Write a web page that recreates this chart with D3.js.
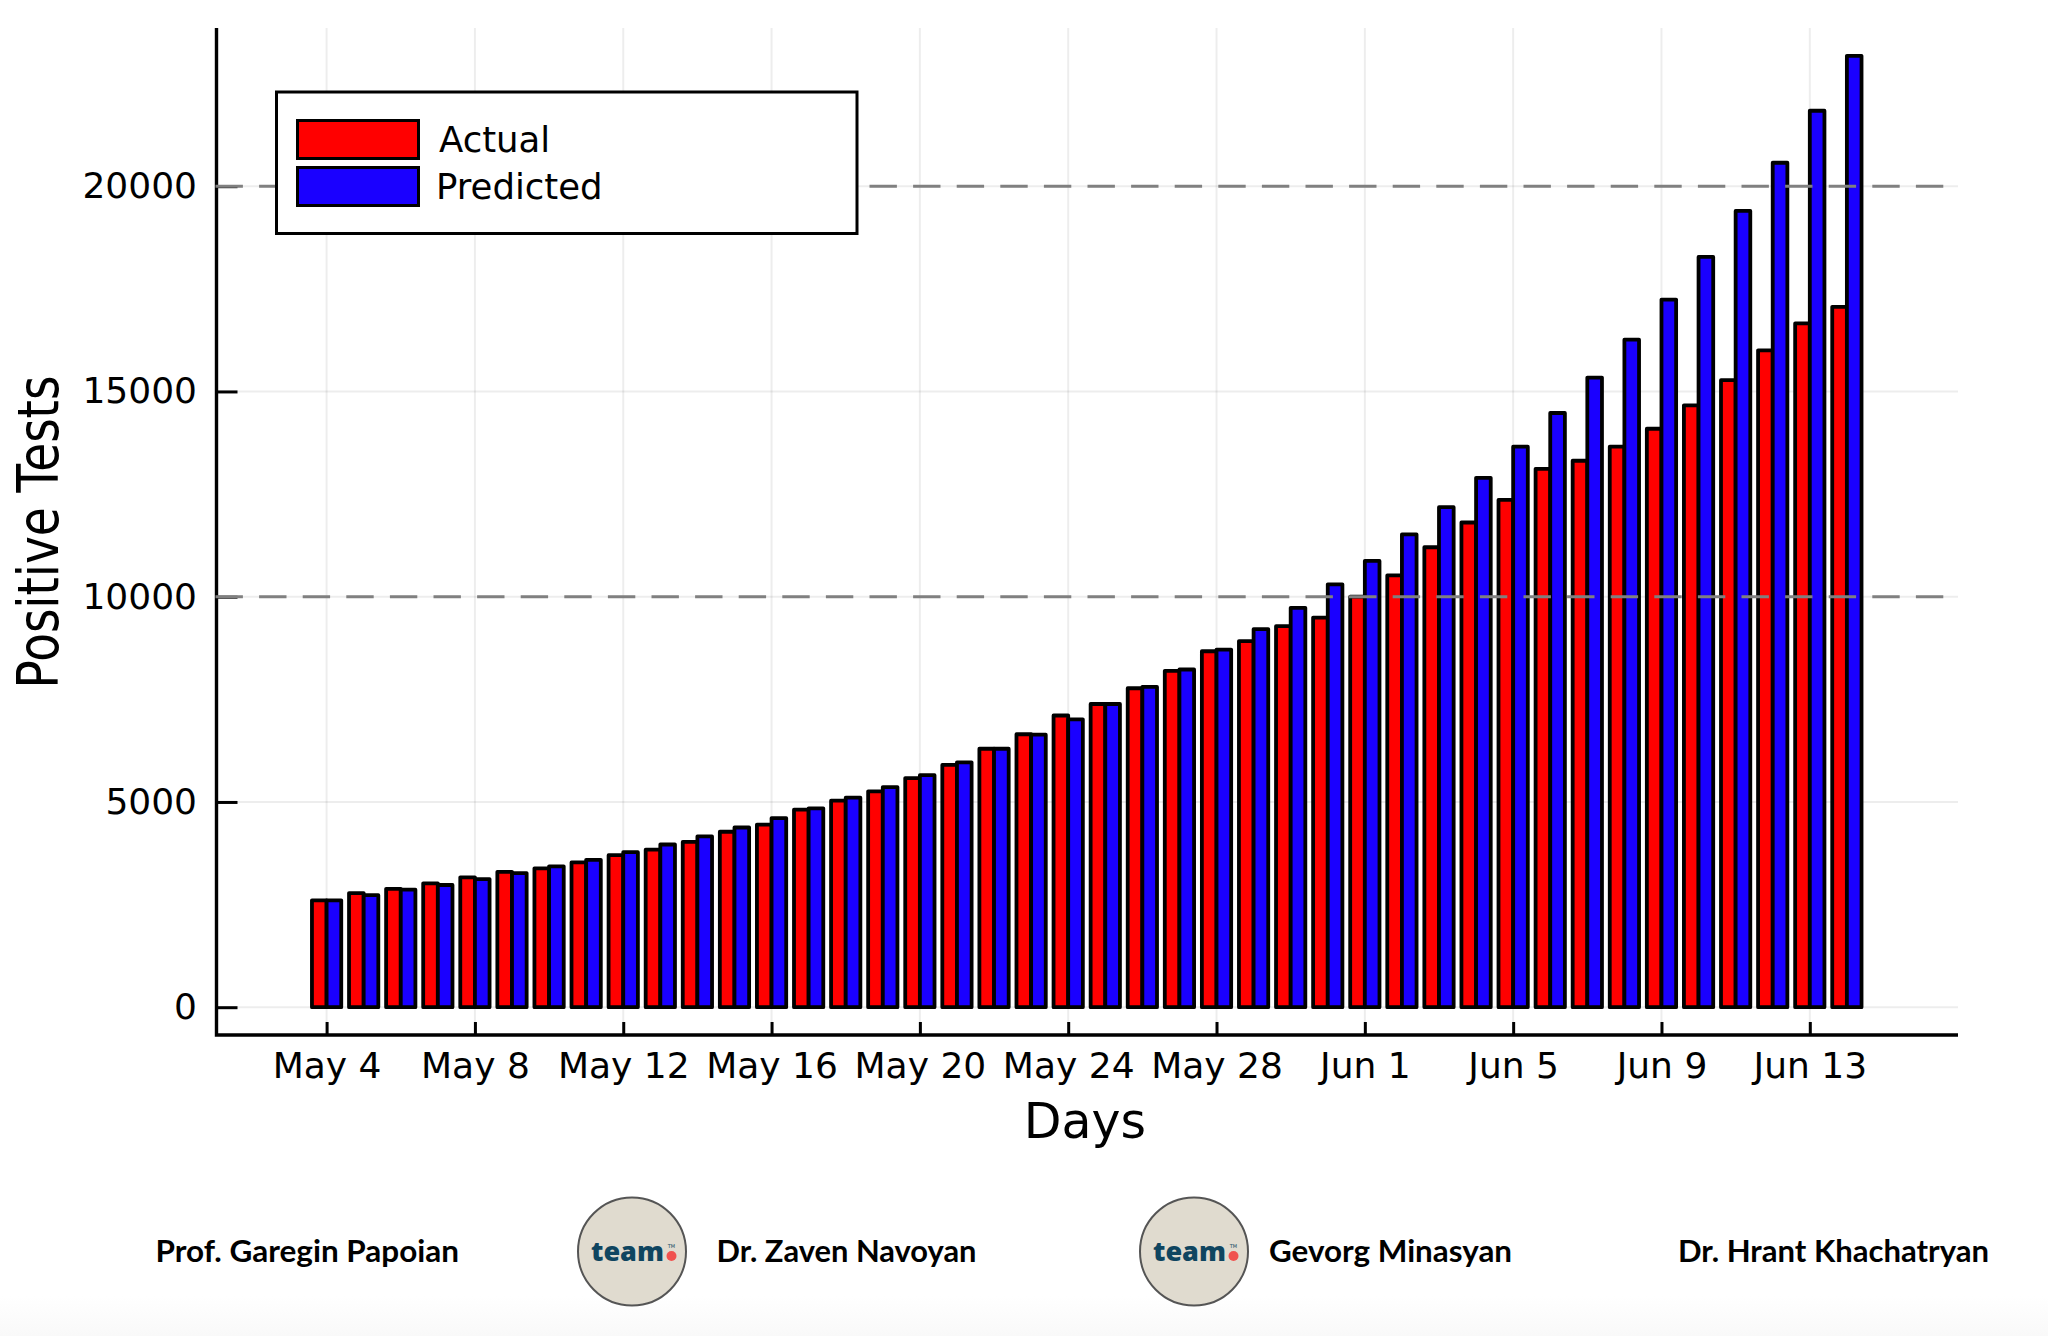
<!DOCTYPE html>
<html lang="en">
    <head>
        <meta charset="UTF-8" />
        <title>Positive Tests</title>
        <script src="https://d3js.org/d3.v7.min.js"></script>
        <style>
            body {
                margin: 0;
                background: #fff;
            }

            svg {
                display: block;
            }

            text {
                font-family: 'DejaVu Sans', sans-serif;
                fill: #000;
            }

            .tick text {
                font-size: 36px;
            }

            .credit {
                font-family: Lato, 'Noto Sans', sans-serif;
                font-weight: 700;
                font-size: 31px;
            }
        </style>
    </head>
    <body>
        <svg width="2048" height="1336"></svg>

        <script>
            const actual = [
                2604, 2780, 2884, 3018, 3164, 3299, 3382, 3527, 3703, 3838, 4025, 4274, 4450, 4813,
                5031, 5259, 5581, 5902, 6296, 6649, 7106, 7386, 7770, 8195, 8671, 8920, 9283, 9491,
                10000, 10519, 11205, 11807, 12357, 13115, 13312, 13655, 14091, 14662, 15275, 16002,
                16656, 17061,
            ];
            const predicted = [
                2604, 2728, 2863, 2977, 3122, 3268, 3433, 3589, 3776, 3963, 4160, 4378, 4606, 4844,
                5104, 5363, 5653, 5965, 6296, 6639, 7012, 7386, 7801, 8226, 8712, 9211, 9730, 10301,
                10872, 11516, 12181, 12897, 13655, 14475, 15337, 16262, 17238, 18276, 19398, 20571,
                21838, 23177,
            ];
            const days = d3.utcDay.range(new Date(Date.UTC(2020, 4, 4)), new Date(Date.UTC(2020, 5, 15)));
            const xTickDays = days.filter((d, i) => i % 4 === 0);
            const yTicks = [0, 5000, 10000, 15000, 20000];
            const dashedLevels = [10000, 20000];
            const seriesNames = ['Actual', 'Predicted'];
            const seriesColors = ['#ff0000', '#1a00ff'];
            const credits = [
                { name: 'Prof. Garegin Papoian', left: 155.5, right: 459 },
                { name: 'Dr. Zaven Navoyan', left: 716.5, right: 976.5 },
                { name: 'Gevorg Minasyan', left: 1269, right: 1512 },
                { name: 'Dr. Hrant Khachatryan', left: 1678, right: 1989 },
            ];
            const badgeCenters = [632, 1194];

            const svg = d3.select('svg');
            const plot = { left: 216.5, right: 1958, top: 28, bottom: 1035 };

            const x = d3.scaleUtc().domain([days[0], days[40]]).range([326.6, 1809.8]);
            const y = d3.scaleLinear().domain([0, 20000]).range([1007.2, 186.2]);
            const dayWidth = x(days[1]) - x(days[0]);
            const barWidth = dayWidth * 0.395;

            // faint fade at the very bottom of the slide
            const fade = svg
                .append('defs')
                .append('linearGradient')
                .attr('id', 'fade')
                .attr('x1', 0)
                .attr('x2', 0)
                .attr('y1', 0)
                .attr('y2', 1);
            fade.append('stop').attr('offset', 0).attr('stop-color', '#fff');
            fade.append('stop').attr('offset', 1).attr('stop-color', '#f9f9f9');
            svg.append('rect').attr('y', 1296).attr('width', 2048).attr('height', 40).attr('fill', 'url(#fade)');

            // grid
            const grid = svg.append('g').attr('stroke', '#000').attr('stroke-opacity', 0.07).attr('stroke-width', 2);
            grid.selectAll('.gx')
                .data(xTickDays)
                .enter()
                .append('line')
                .attr('x1', (d) => x(d))
                .attr('x2', (d) => x(d))
                .attr('y1', plot.top)
                .attr('y2', plot.bottom);
            grid.selectAll('.gy')
                .data(yTicks)
                .enter()
                .append('line')
                .attr('x1', plot.left)
                .attr('x2', plot.right)
                .attr('y1', (d) => y(d))
                .attr('y2', (d) => y(d));

            // bars
            [actual, predicted].forEach((values, s) => {
                svg.append('g')
                    .selectAll('rect')
                    .data(values)
                    .enter()
                    .append('rect')
                    .attr('x', (d, i) => x(days[i]) + (s === 0 ? -barWidth : 0))
                    .attr('y', (d) => y(d))
                    .attr('width', barWidth)
                    .attr('height', (d) => y(0) - y(d))
                    .attr('fill', seriesColors[s])
                    .attr('stroke', '#000')
                    .attr('stroke-width', 3.8)
                    .attr('stroke-linejoin', 'round');
            });

            // axes
            const xAxis = svg
                .append('g')
                .attr('transform', `translate(0,${plot.bottom})`)
                .call(
                    d3
                        .axisBottom(x)
                        .tickValues(xTickDays)
                        .tickFormat(d3.utcFormat('%b %-d'))
                        .tickSize(-13)
                        .tickPadding(17),
                );
            const yAxis = svg
                .append('g')
                .attr('transform', `translate(${plot.left},0)`)
                .call(d3.axisLeft(y).tickValues(yTicks).tickFormat(d3.format('d')).tickSize(-21).tickPadding(19.5));
            [xAxis, yAxis].forEach((axis) => {
                axis.select('.domain').remove();
                axis.selectAll('.tick line').attr('stroke', '#000').attr('stroke-width', 3);
            });

            svg.append('path')
                .attr('d', `M${plot.left},${plot.top}V${plot.bottom}H${plot.right}`)
                .attr('fill', 'none')
                .attr('stroke', '#000')
                .attr('stroke-width', 3.4);

            // dashed reference levels sit on top of the bars
            svg.append('g')
                .selectAll('line')
                .data(dashedLevels)
                .enter()
                .append('line')
                .attr('x1', plot.left - 1)
                .attr('x2', plot.right - 10)
                .attr('y1', (d) => y(d))
                .attr('y2', (d) => y(d))
                .attr('stroke', '#808080')
                .attr('stroke-width', 3)
                .attr('stroke-dasharray', '27.4 16.2');

            // legend
            const legend = svg.append('g');
            legend
                .append('rect')
                .attr('x', 276.5)
                .attr('y', 92)
                .attr('width', 580.5)
                .attr('height', 141.5)
                .attr('fill', '#fff')
                .attr('stroke', '#000')
                .attr('stroke-width', 3);
            seriesNames.forEach((name, i) => {
                legend
                    .append('rect')
                    .attr('x', 297.5)
                    .attr('y', 120.5 + i * 47)
                    .attr('width', 121)
                    .attr('height', 38)
                    .attr('fill', seriesColors[i])
                    .attr('stroke', '#000')
                    .attr('stroke-width', 3);
                legend
                    .append('text')
                    .attr('x', i === 0 ? 439 : 436)
                    .attr('y', 151.5 + i * 47)
                    .attr('font-size', 35.5)
                    .text(name);
            });

            // axis titles
            svg.append('text')
                .attr('x', 1085)
                .attr('y', 1138)
                .attr('text-anchor', 'middle')
                .attr('font-size', 49)
                .text('Days');
            svg.append('text')
                .attr('transform', 'translate(57.5,532) rotate(-90) scale(1,1.22)')
                .attr('text-anchor', 'middle')
                .attr('font-size', 47)
                .text('Positive Tests');

            // credits
            svg.selectAll('.credit')
                .data(credits)
                .enter()
                .append('text')
                .attr('class', 'credit')
                .attr('x', (d) => d.left)
                .attr('y', 1261.5)
                .attr('textLength', (d) => d.right - d.left)
                .attr('lengthAdjust', 'spacingAndGlyphs')
                .text((d) => d.name);

            badgeCenters.forEach((cx) => {
                const badge = svg.append('g').attr('transform', `translate(${cx},1251.5)`);
                badge
                    .append('circle')
                    .attr('r', 54)
                    .attr('fill', '#e0dbcf')
                    .attr('stroke', '#555')
                    .attr('stroke-width', 2);
                badge
                    .append('text')
                    .attr('x', -41)
                    .attr('y', 9)
                    .attr('font-size', 27)
                    .style('font-family', "'Open Sans', sans-serif")
                    .style('font-weight', 800)
                    .style('fill', '#0f4560')
                    .text('team');
                badge.append('circle').attr('cx', 39.5).attr('cy', 4.5).attr('r', 5).attr('fill', '#f0524f');
                badge
                    .append('text')
                    .attr('x', 39.5)
                    .attr('y', -3.5)
                    .attr('text-anchor', 'middle')
                    .attr('font-size', 5)
                    .style('fill', '#0f4560')
                    .text('TM');
            });
        </script>
    </body>
</html>
